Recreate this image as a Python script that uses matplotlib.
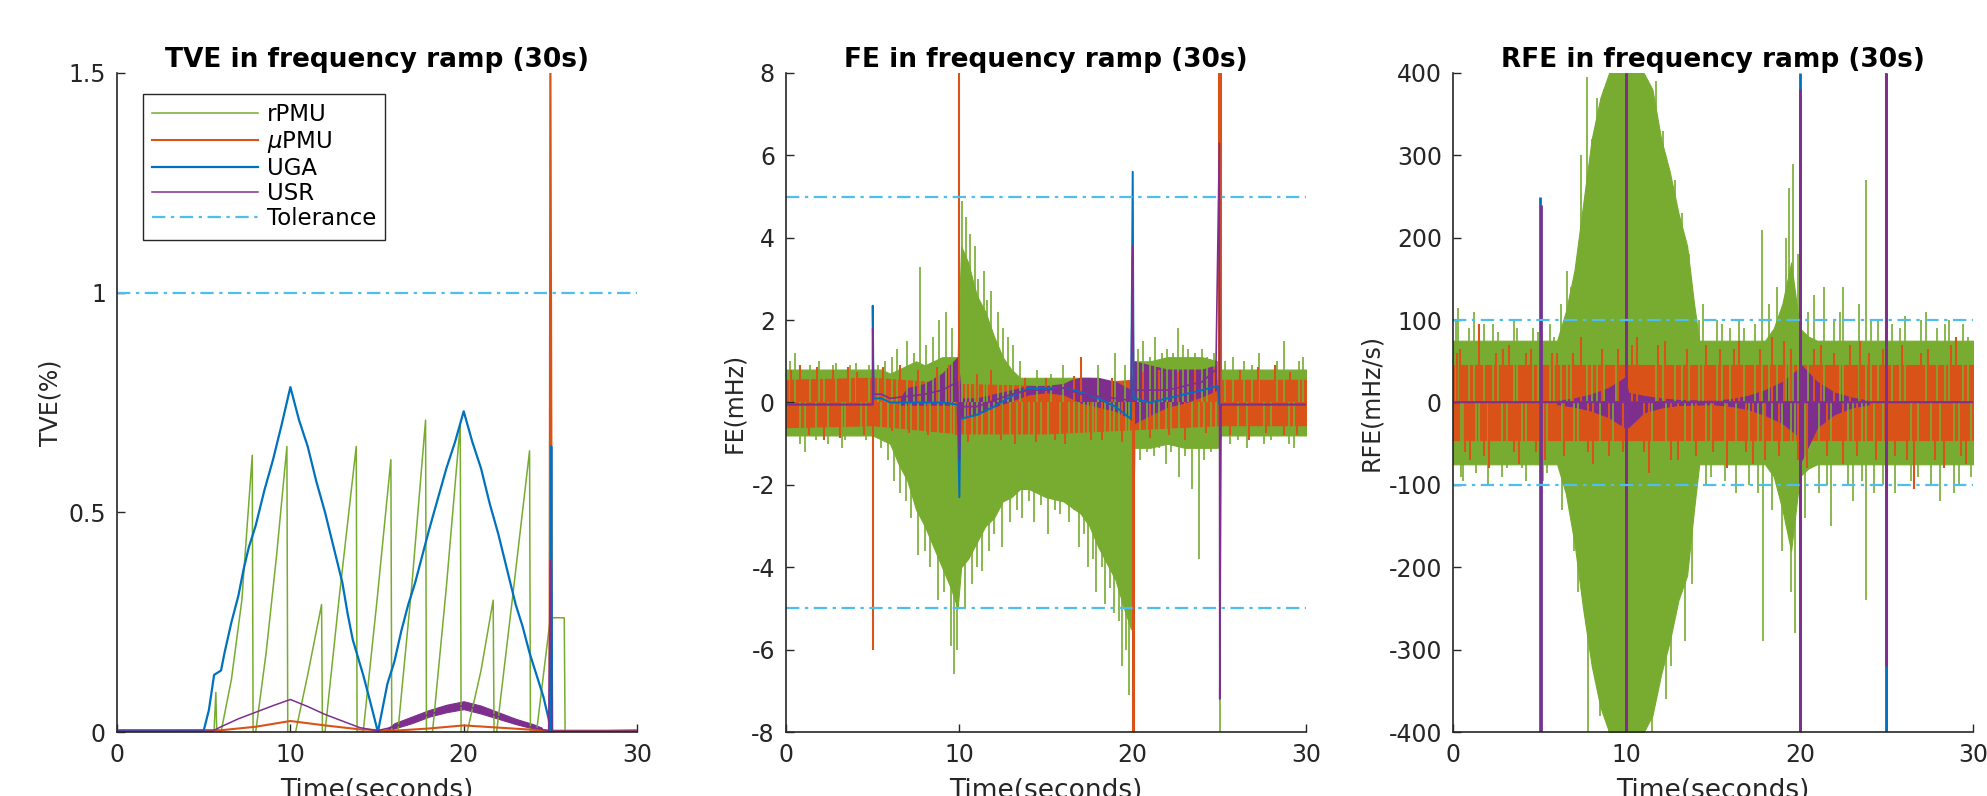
import numpy as np
import matplotlib.pyplot as plt

# colours (MATLAB defaults)
c_rpmu = '#77AC30'
c_upmu = '#D95319'
c_uga = '#0072BD'
c_usr = '#7E2F8E'
c_tol = '#4DBEEE'

# ---------------- TVE panel ----------------
tve_rpmu_t = [0, 5.6, 5.7, 5.75, 6.0, 6.6, 7.2, 7.8, 7.85, 8.0, 8.6, 9.2, 9.8, 9.85, 10.3, 11.0, 11.8, 11.85,
              12.0, 12.8, 13.8, 13.85, 14.2, 15.0, 15.8, 15.85, 16.2, 17.0, 17.8, 17.85, 18.2, 19.0, 19.8, 19.85,
              20.2, 21.0, 21.7, 21.75, 21.9, 22.8, 23.8, 23.85, 24.2, 25.0, 25.8, 25.85, 30]
tve_rpmu = [0.005, 0.005, 0.09, 0.005, 0.0, 0.12, 0.3, 0.63, 0.0, 0.0, 0.18, 0.4, 0.65, 0.0, 0.0, 0.13, 0.29, 0.0,
            0.0, 0.3, 0.65, 0.0, 0.0, 0.3, 0.62, 0.0, 0.0, 0.33, 0.71, 0.0, 0.0, 0.33, 0.70, 0.0,
            0.0, 0.14, 0.30, 0.0, 0.0, 0.3, 0.64, 0.0, 0.0, 0.26, 0.26, 0.0, 0.005]

tve_upmu_t = [0, 6.0, 8.0, 10.0, 12.0, 14.0, 16.0, 18.0, 20.0, 22.0, 24.0, 24.95, 25.0, 25.1, 30]
tve_upmu = [0.003, 0.004, 0.012, 0.025, 0.015, 0.006, 0.003, 0.008, 0.015, 0.01, 0.005, 0.003, 1.6, 0.003, 0.003]

tve_uga_t = [0, 5.0, 5.3, 5.6, 6.0, 6.2, 6.6, 7.0, 7.3, 7.6, 8.0, 8.5, 9.0, 9.5, 10.0, 10.5, 11.0, 11.5, 12.0,
             12.5, 13.0, 13.3, 13.6, 13.9, 14.2, 14.6, 15.05, 15.3, 15.6, 16.0, 16.4, 16.8, 17.2, 17.6, 18.0,
             18.5, 19.0, 19.5, 20.0, 20.5, 21.0, 21.5, 22.0, 22.5, 23.0, 23.4, 23.8, 24.2, 24.6, 24.9, 25.0,
             25.05, 25.1, 30]
tve_uga = [0.003, 0.003, 0.05, 0.13, 0.14, 0.18, 0.25, 0.31, 0.37, 0.42, 0.47, 0.55, 0.62, 0.70, 0.785, 0.71,
           0.65, 0.57, 0.50, 0.42, 0.34, 0.27, 0.21, 0.17, 0.13, 0.07, 0.0, 0.05, 0.11, 0.16, 0.23, 0.29, 0.34,
           0.40, 0.46, 0.53, 0.60, 0.66, 0.73, 0.66, 0.60, 0.52, 0.45, 0.37, 0.29, 0.24, 0.18, 0.13, 0.08, 0.03,
           0.0, 0.65, 0.0, 0.0]

tve_usr_t = [0, 5.5, 6.0, 7.0, 8.0, 9.0, 10.0, 11.0, 12.0, 13.0, 14.0, 15.0, 16.0, 17.0, 18.0, 19.0, 20.0,
             21.0, 22.0, 23.0, 24.0, 24.9, 25.0, 25.1, 30]
tve_usr = [0.002, 0.002, 0.012, 0.03, 0.045, 0.06, 0.074, 0.058, 0.04, 0.025, 0.01, 0.003, 0.012, 0.025, 0.04,
           0.052, 0.06, 0.05, 0.035, 0.022, 0.01, 0.003, 0.39, 0.002, 0.002]
tve_usr_band_t = [15.5, 16, 17, 18, 19, 20, 21, 22, 23, 24, 24.5]
tve_usr_band_hi = [0.005, 0.02, 0.035, 0.05, 0.062, 0.07, 0.06, 0.045, 0.03, 0.018, 0.01]
tve_usr_band_lo = [0.002, 0.008, 0.02, 0.035, 0.045, 0.052, 0.042, 0.03, 0.018, 0.008, 0.004]

# ---------------- FE panel ----------------
fe_t = [0, 5, 5.5, 6, 6.5, 7, 7.5, 8, 8.5, 9, 9.5, 9.9, 10.1, 10.5, 11, 11.5, 12, 12.5, 13, 13.5, 14, 15, 16,
        17, 17.5, 18, 18.5, 19, 19.5, 19.9, 20.1, 21, 22, 23, 24, 24.9, 25.1, 30]
fe_rpmu_hi = [0.8, 0.8, 0.8, 0.7, 0.8, 0.9, 1.0, 0.9, 1.0, 1.1, 1.1, 1.1, 3.8, 3.4, 2.6, 2.2, 1.6, 1.1, 0.8, 0.6,
              0.6, 0.6, 0.6, 0.6, 0.6, 0.5, 0.5, 0.4, 0.4, 0.4, 1.0, 1.0, 1.1, 1.1, 1.1, 1.0, 0.8, 0.8]
fe_rpmu_lo = [-0.8, -0.8, -0.9, -1.0, -1.5, -1.9, -2.6, -3.0, -3.5, -4.0, -4.5, -5.0, -4.0, -3.8, -3.4, -3.0,
              -2.8, -2.4, -2.3, -2.1, -2.1, -2.3, -2.4, -2.7, -3.0, -3.5, -3.9, -4.3, -5.0, -5.5, -1.1, -1.1,
              -1.0, -1.1, -1.1, -1.1, -0.8, -0.8]
fe_rpmu_spike_t = [0.2, 0.5, 0.8, 1.1, 1.4, 1.7, 1.9, 2.2, 2.4, 2.7, 2.9, 3.2, 3.4, 3.7, 4.05, 4.3, 4.6, 4.8,
                   5.3, 5.7, 6.1, 6.4, 7.0, 7.4, 7.7, 8.1, 8.5, 8.8, 9.2, 9.6,
                   5.5, 5.9, 6.2, 6.6, 6.9, 7.2, 7.6, 8.0, 8.3, 8.75, 9.1, 9.5, 9.7, 9.85,
                   10.15, 10.4, 10.6, 10.9, 11.1, 11.4, 11.6, 11.8, 12.2, 12.5, 12.8, 13.1, 13.5,
                   10.3, 10.7, 11.0, 11.3, 11.7, 12.0, 12.45, 12.9, 13.3, 13.6, 14.0,
                   14.3, 14.7, 15.1, 15.5, 15.8, 16.3, 16.6, 16.9, 17.2, 17.4, 17.7, 17.9, 18.2, 18.4, 18.7,
                   18.9, 19.2, 19.4, 19.6, 19.8,
                   14.5, 15.3, 16.0, 17.0, 18.0, 19.0, 19.55,
                   20.3, 20.6, 21.0, 21.3, 21.7, 22.0, 22.3, 22.6, 22.9, 23.2, 23.6, 24.0, 24.3, 24.7,
                   20.4, 20.8, 21.2, 21.5, 21.9, 22.2, 22.65, 23.0, 23.4, 23.8, 24.1, 24.5, 24.8,
                   25.05, 25.3, 25.6, 25.8, 26.1, 26.4, 26.6, 26.9, 27.3, 27.6, 28.0, 28.3, 28.7, 29.0,
                   29.3, 29.6, 29.8]
fe_rpmu_spike_v = [1.0, 1.2, -1.0, -1.2, 0.9, -0.9, 1.0, 0.8, -1.0, 0.9, 0.95, -1.1, -0.9, 0.9, 0.95, -0.8,
                   -0.9, 0.9,
                   0.9, 1.0, 1.1, 1.3, 1.5, 1.2, 3.3, 1.4, 1.6, 2.0, 2.2, 1.8,
                   -1.1, -1.4, -1.9, -2.2, -2.4, -2.8, -3.7, -3.6, -4.0, -4.8, -4.6, -5.9, -6.6, -6.0,
                   4.9, 4.5, 4.1, 3.8, 3.0, 3.2, 2.5, 2.7, 2.2, 1.8, 1.6, 1.4, 1.0,
                   -5.0, -4.4, -4.0, -4.1, -3.6, -3.2, -3.5, -2.9, -2.6, -2.8, -2.4,
                   -2.9, -2.5, -3.2, -2.6, -2.7, -2.9, -2.6, -3.5, -3.2, -4.0, -3.8, -4.6, -4.0, -4.9, -4.5,
                   -5.1, -5.3, -6.4, -6.0, -7.1,
                   0.8, 0.7, 0.9, 0.8, 0.9, 1.2, 0.9,
                   1.3, 1.5, 1.1, 1.6, 1.2, 1.3, 1.2, 1.8, 1.4, 1.3, 1.2, 1.3, 1.1, 1.2,
                   -1.4, -1.2, -1.3, -1.1, -1.5, -1.2, -1.8, -1.3, -2.1, -3.8, -1.4, -1.2, -1.0,
                   -8.0, 1.0, -1.0, 1.1, -0.9, 1.0, -1.1, 0.9, 1.2, -1.0, -0.9, 1.0, 1.5, -1.0,
                   -1.1, 1.0, 1.1]

fe_upmu_t = [0, 5, 10, 15, 20, 25, 30]
fe_upmu_hi = [0.55, 0.6, 0.45, 0.4, 0.55, 0.55, 0.55]
fe_upmu_lo = [-0.6, -0.55, -0.75, -0.75, -0.65, -0.55, -0.55]
fe_upmu_spike_t = [0.3, 0.8, 1.3, 1.8, 2.2, 2.7, 3.1, 3.6, 4.1, 4.5, 5.0, 5.6, 6.1, 6.6, 7.1, 7.6, 8.2, 8.7,
                   9.4, 9.8, 10.0, 10.5, 11.0, 11.8, 12.4, 13.2, 13.8, 14.4, 15.0, 15.5, 16.1, 16.6, 17.0,
                   17.6, 18.2, 18.8, 19.4, 20.0, 20.05, 20.6, 21.0, 21.5, 22.1, 22.6, 23.0, 23.6, 24.2,
                   24.7, 25.0, 25.08, 25.6, 26.2, 26.7, 27.2, 27.7, 28.2, 28.7, 29.1, 29.5]
fe_upmu_spike_v = [0.8, 0.9, -0.8, 0.85, -0.9, 0.8, -0.85, 0.85, 0.75, -0.8, -6.0, 0.85, -0.7, 0.9, -0.75,
                   0.8, -0.8, 0.85, 0.9, -0.8, 9.0, -0.95, 0.7, 0.8, -0.9, -1.0, 0.6, -0.95, 0.6, -0.9,
                   -1.0, 0.65, 1.1, -0.9, -0.9, 0.6, -0.95, -9.0, -9.0, 0.75, -0.85, 0.8, -0.8, 0.75,
                   -0.9, 0.8, -0.75, 0.85, 9.0, 9.0, -0.8, 0.8, -0.9, 0.85, -0.75, 0.9, -0.8, 0.75, -0.8]

fe_uga_t = [0, 5.0, 5.0, 5.05, 5.5, 6, 7, 8, 9, 9.9, 10.0, 10.05, 11, 12, 13, 14, 15, 16, 17, 18, 19, 19.9,
            20.0, 20.05, 21, 22, 23, 24, 24.9, 25.0, 30]
fe_uga = [-0.05, -0.05, 2.35, 0.1, 0.1, 0.0, 0.0, 0.0, 0.0, -0.05, -2.3, -0.4, -0.3, -0.1, 0.15, 0.35, 0.35,
          0.35, 0.25, 0.1, -0.1, -0.4, 5.6, 0.1, 0.0, 0.1, 0.2, 0.3, 0.4, -0.05, -0.05]

fe_usr_t = [0, 5.0, 5.0, 5.05, 5.5, 6, 7, 8, 9, 9.9, 10.0, 10.05, 11, 12, 13, 14, 15, 16, 17, 18, 19, 19.9,
            20.0, 20.05, 21, 22, 23, 24, 24.8, 25.0, 25.02, 25.1, 30]
fe_usr = [-0.05, -0.05, 1.8, 0.2, 0.2, 0.1, 0.15, 0.2, 0.3, 0.5, -1.4, -0.1, -0.1, 0.05, 0.2, 0.3, 0.3, 0.35,
          0.2, 0.15, 0.1, 0.05, 3.8, 0.3, 0.3, 0.3, 0.4, 0.5, 0.8, 6.3, -7.2, -0.05, -0.05]
fe_usr_band_t = [6.5, 7, 8, 9, 9.9, 10.1, 11, 12, 13, 14, 15, 16, 16.5, 17, 18, 19, 19.9, 20.1, 21, 22, 23, 24,
                 24.8]
fe_usr_band_hi = [0.05, 0.35, 0.45, 0.7, 1.1, 0.1, 0.1, 0.2, 0.3, 0.4, 0.4, 0.45, 0.55, 0.6, 0.6, 0.5, 0.3,
                  1.0, 0.9, 0.8, 0.8, 0.8, 0.9]
fe_usr_band_lo = [-0.05, -0.05, -0.05, -0.05, -0.05, -0.35, -0.3, -0.1, 0.05, 0.2, 0.25, 0.2, 0.1, 0.0, -0.1,
                  -0.2, -0.4, -0.5, -0.3, -0.1, 0.0, 0.15, 0.3]

# ---------------- RFE panel ----------------
rfe_t = [0, 6, 6.5, 7, 7.5, 8, 8.5, 9, 10, 11, 11.5, 12, 12.5, 13, 13.5, 13.9, 14.2, 18, 18.5, 19, 19.5, 20,
         20.5, 21, 30]
rfe_rpmu_hi = [75, 75, 110, 160, 240, 320, 370, 400, 400, 400, 380, 320, 280, 230, 190, 120, 75, 75, 90, 120,
               170, 90, 80, 75, 75]
rfe_rpmu_lo = [-75, -75, -110, -170, -250, -320, -370, -400, -400, -400, -380, -330, -290, -240, -210, -130,
               -75, -75, -90, -130, -180, -90, -80, -75, -75]
rfe_rpmu_spike_t = [0.15, 0.3, 0.45, 0.6, 0.9, 1.2, 1.35, 1.5, 1.8, 2.0, 2.3, 2.6, 2.8, 3.1, 3.5, 3.7, 4.0,
                    4.2, 4.6, 4.9, 5.2, 5.4, 5.6, 5.8,
                    6.2, 6.3, 6.6, 6.8, 7.0, 7.2, 7.4, 7.7, 7.8, 8.0, 8.3, 8.5, 8.7, 9.0, 9.2, 9.4,
                    11.5, 11.7, 12.1, 12.3, 12.6, 12.8, 13.2, 13.4, 13.6, 13.8,
                    14.2, 14.4, 14.6, 14.9, 15.2, 15.5, 15.7, 16.0, 16.3, 16.5, 16.8, 17.1, 17.4, 17.6,
                    17.8, 17.9, 18.2, 18.4, 18.7, 19.0, 19.2, 19.4, 19.5, 19.6, 19.7, 19.9, 20.3, 20.5,
                    20.8, 21.1, 21.4, 21.6, 21.8, 22.0, 22.3, 22.5, 22.8, 23.1, 23.4, 23.6, 23.8, 23.85,
                    24.1, 24.3, 24.5, 24.8, 25.3, 25.5, 25.8, 26.1, 26.4, 26.8, 27.0, 27.3, 27.6, 27.9,
                    28.1, 28.4, 28.6, 28.9, 29.2, 29.4, 29.7, 29.9]
rfe_rpmu_spike_v = [100, 115, -90, -95, 90, 110, -85, -75, 95, -100, 95, 85, -90, -80, 100, 90, -80,
                    -95, 90, 85, -95, -85, 95, 80,
                    120, -130, 160, 140, -180, -230, 300, 395, -400, 320, 370, -380, 380, -400, -350, 400,
                    -400, 390, 330, -360, -320, 270, 230, -290, 180, -220,
                    100, 120, -100, -90, 100, 95, -95, 90, -110, 100, 90, -100, 95, -110,
                    210, -290, 120, -130, 140, -180, 200, 260, -230, 290, -280, 180, -140, 110,
                    130, -110, 140, -100, -150, 100, 110, 140, -100, -120, 120, -95, 270, -240,
                    100, -110, 100, -100, 95, -110, 90, 105, -95, -90, 100, 110, -100, 90,
                    -120, 95, 100, -110, -100, 95, 80, -90]

rfe_upmu_t = [0, 30]
rfe_upmu_hi = [45, 45]
rfe_upmu_lo = [-45, -45]
rfe_upmu_spike_t = [0.2, 0.4, 0.7, 1.0, 1.5, 1.8, 2.1, 2.5, 2.9, 3.2, 3.5, 3.8, 4.2, 4.5, 4.8, 5.3, 5.7, 6.0,
                    6.4, 6.9, 7.4, 7.8, 8.1, 8.6, 9.0, 9.5, 9.8, 10.3, 10.6, 11.0, 11.3, 11.8, 12.2, 12.6,
                    13.0, 13.5, 14.0, 14.6, 15.0, 15.4, 15.8, 16.2, 16.5, 16.9, 17.3, 17.7, 18.0, 18.4,
                    18.8, 19.1, 19.5, 19.9, 20.4, 20.8, 21.2, 21.6, 22.0, 22.5, 22.9, 23.3, 23.5, 24.0,
                    24.4, 24.8, 25.0, 25.05, 25.5, 25.9, 26.2, 26.6, 27.0, 27.4, 27.8, 28.3, 28.7, 29.0,
                    29.3, 29.6]
rfe_upmu_spike_v = [60, 65, -60, -70, 95, -65, -80, 60, 65, 70, -60, -75, 60, 65, -60, -70, 60, 60,
                    -65, 60, 80, -60, -75, 65, -65, 65, -60, 70, 80, -60, -85, 70, 75, -70,
                    -70, 65, -65, 70, -60, 65, -80, 65, 75, -60, -75, 65, -70, 80,
                    -65, 75, 65, -70, -80, 65, 70, -65, 60, -75, 70, -65, 75, 60,
                    -70, 65, 400, -400, -65, 70, -70, -105, 60, 65, -70, -80, 70, 80,
                    -65, -75]

rfe_uga_spike_t = [5.0, 10.0, 20.0, 25.0]
rfe_uga_spike_lo = [-400, -400, -400, -400]
rfe_uga_spike_hi = [250, 400, 400, 400]

rfe_usr_spike_t = [5.05, 10.0, 20.0, 25.0]
rfe_usr_spike_lo = [-400, -400, -400, -320]
rfe_usr_spike_hi = [240, 400, 380, 400]
rfe_usr_band_t = [6, 7, 8, 9, 9.9, 10.1, 11, 12, 13, 15, 16, 17, 18, 19, 19.9, 20.1, 21, 22, 23, 24]
rfe_usr_band_hi = [2, 5, 10, 18, 30, 12, 8, 5, 3, 2, 4, 8, 15, 25, 40, 45, 25, 12, 6, 2]
rfe_usr_band_lo = [-2, -5, -10, -18, -30, -30, -12, -6, -3, -2, -4, -8, -15, -25, -40, -70, -30, -14, -6, -2]

tve_tol = [1.0]
fe_tol = [5.0, -5.0]
rfe_tol = [100.0, -100.0]

TOL_STYLE = (0, (6, 2.5, 1.5, 2.5))


def style_axes(ax, title, ylabel, ylim, yticks, yticklabels):
    ax.set_xlim(0, 30)
    ax.set_ylim(ylim)
    ax.set_xticks([0, 10, 20, 30])
    ax.set_yticks(yticks)
    ax.set_yticklabels(yticklabels)
    for s in ['top', 'right']:
        ax.spines[s].set_visible(False)
    for s in ['left', 'bottom']:
        ax.spines[s].set_linewidth(1.2)
        ax.spines[s].set_color('#262626')
    ax.tick_params(direction='in', length=6, width=1, labelsize=17, pad=8, colors='#262626')
    ax.set_title(title, fontsize=19, fontweight='bold', pad=3)
    ax.set_ylabel(ylabel, fontsize=17, color='#262626')
    # the reference figure crops the x label at the bottom edge
    ax.set_xlabel('Time(seconds)', fontsize=19, color='#262626', labelpad=8)


def band(ax, t, lo, hi, color):
    ax.fill_between(t, lo, hi, color=color, linewidth=0.8, edgecolor=color)


def main():
    fig = plt.figure(figsize=(19.87, 7.96), dpi=100)
    w, h, b = 0.2617, 0.8279, 0.0804
    ax1 = fig.add_axes([0.0589, b, w, h])
    ax2 = fig.add_axes([0.3956, b, w, h])
    ax3 = fig.add_axes([0.7313, b, w, h])

    # TVE
    ax1.plot(tve_rpmu_t, tve_rpmu, color=c_rpmu, lw=1.1, label='rPMU')
    ax1.plot(tve_upmu_t, tve_upmu, color=c_upmu, lw=1.5, label=r'$\mu$PMU')
    ax1.plot(tve_uga_t, tve_uga, color=c_uga, lw=1.6, label='UGA')
    band(ax1, tve_usr_band_t, tve_usr_band_lo, tve_usr_band_hi, c_usr)
    ax1.plot(tve_usr_t, tve_usr, color=c_usr, lw=1.1, label='USR')
    for y in tve_tol:
        ax1.axhline(y, color=c_tol, lw=1.6, ls=TOL_STYLE, label='Tolerance')
    style_axes(ax1, 'TVE in frequency ramp (30s)', 'TVE(%)', (0, 1.5), [0, 0.5, 1, 1.5],
               ['0', '0.5', '1', '1.5'])
    leg = ax1.legend(loc='upper left', bbox_to_anchor=(0.05, 0.968), borderaxespad=0, fontsize=16.5,
                     labelspacing=0.1, handlelength=4.6, handletextpad=0.4, fancybox=False,
                     framealpha=1, edgecolor='#262626')
    leg.get_frame().set_linewidth(1.0)

    # FE
    band(ax2, fe_t, fe_rpmu_lo, fe_rpmu_hi, c_rpmu)
    ax2.vlines(fe_rpmu_spike_t, 0, fe_rpmu_spike_v, color=c_rpmu, lw=1.2)
    band(ax2, fe_upmu_t, fe_upmu_lo, fe_upmu_hi, c_upmu)
    ax2.vlines(fe_upmu_spike_t, 0, fe_upmu_spike_v, color=c_upmu, lw=1.5)
    ax2.plot(fe_uga_t, fe_uga, color=c_uga, lw=1.4)
    band(ax2, fe_usr_band_t, fe_usr_band_lo, fe_usr_band_hi, c_usr)
    ax2.plot(fe_usr_t, fe_usr, color=c_usr, lw=1.2)
    for y in fe_tol:
        ax2.axhline(y, color=c_tol, lw=1.6, ls=TOL_STYLE)
    style_axes(ax2, 'FE in frequency ramp (30s)', 'FE(mHz)', (-8, 8), np.arange(-8, 9, 2),
               [str(v) for v in range(-8, 9, 2)])

    # RFE
    band(ax3, rfe_t, rfe_rpmu_lo, rfe_rpmu_hi, c_rpmu)
    ax3.vlines(rfe_rpmu_spike_t, 0, rfe_rpmu_spike_v, color=c_rpmu, lw=1.2)
    band(ax3, rfe_upmu_t, rfe_upmu_lo, rfe_upmu_hi, c_upmu)
    ax3.vlines(rfe_upmu_spike_t, 0, rfe_upmu_spike_v, color=c_upmu, lw=1.5)
    ax3.plot([0, 30], [0, 0], color=c_uga, lw=1.4)
    ax3.vlines(rfe_uga_spike_t, rfe_uga_spike_lo, rfe_uga_spike_hi, color=c_uga, lw=2)
    band(ax3, rfe_usr_band_t, rfe_usr_band_lo, rfe_usr_band_hi, c_usr)
    ax3.plot([0, 30], [0, 0], color=c_usr, lw=1.0)
    ax3.vlines(rfe_usr_spike_t, rfe_usr_spike_lo, rfe_usr_spike_hi, color=c_usr, lw=2)
    for y in rfe_tol:
        ax3.axhline(y, color=c_tol, lw=1.6, ls=TOL_STYLE)
    style_axes(ax3, 'RFE in frequency ramp (30s)', 'RFE(mHz/s)', (-400, 400), np.arange(-400, 401, 100),
               [str(v) for v in range(-400, 401, 100)])

    fig.savefig('out.png', dpi=100)


if __name__ == "__main__":
    main()
